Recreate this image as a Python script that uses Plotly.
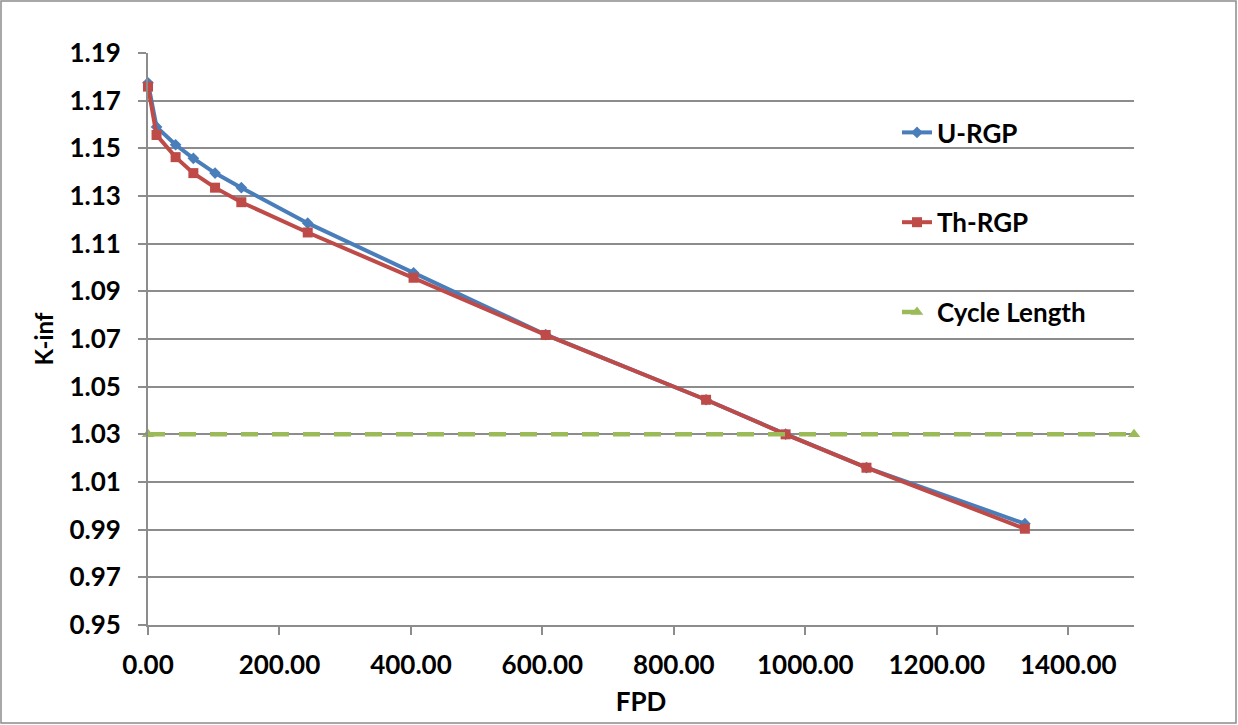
import plotly.graph_objects as go

# Burnup in full-power days and infinite multiplication factor
fpd = [0, 13, 42, 69, 102, 142, 243, 404, 605, 849, 970, 1093, 1334]
u_rgp = [1.1775, 1.1590, 1.1515, 1.1458, 1.1396, 1.1335, 1.1186, 1.0978,
         1.0718, 1.0445, 1.0301, 1.0160, 0.9925]
th_rgp = [1.1759, 1.1556, 1.1463, 1.1396, 1.1335, 1.1274, 1.1147, 1.0957,
          1.0717, 1.0445, 1.0300, 1.0160, 0.9904]
cycle_x = [0, 1500]
cycle_k = [1.03, 1.03]

BLUE = "#4A7EBB"
RED = "#BE4B48"
GREEN = "#9BBB59"
GRID = "#8C8C8C"
FAMILY = "Lato, 'Open Sans', sans-serif"


def bold(size):
    return dict(family=FAMILY, size=size, color="#000000", weight="bold")


fig = go.Figure()
fig.add_trace(go.Scatter(
    x=fpd, y=u_rgp, name="U-RGP", mode="lines+markers",
    line=dict(color=BLUE, width=4),
    marker=dict(symbol="diamond", size=9, color=BLUE),
    legendgroup="a", cliponaxis=False,
))
fig.add_trace(go.Scatter(
    x=fpd, y=th_rgp, name="Th-RGP", mode="lines+markers",
    line=dict(color=RED, width=4),
    marker=dict(symbol="square", size=10, color=RED),
    legendgroup="b", cliponaxis=False,
))
fig.add_trace(go.Scatter(
    x=cycle_x, y=cycle_k, name="Cycle Length", mode="lines+markers",
    line=dict(color=GREEN, width=4.5, dash="17px,14px"),
    marker=dict(symbol="triangle-up", size=11, color=GREEN),
    legendgroup="c", cliponaxis=False,
))

L, R, T, B = 148, 104, 53, 100
W, H = 1238, 725
pw, ph = W - L - R, H - T - B

fig.update_layout(
    width=W, height=H,
    margin=dict(l=L, r=R, t=T, b=B),
    paper_bgcolor="white", plot_bgcolor="white",
    font=bold(26),
    showlegend=True,
    legend=dict(
        x=(897 - L) / pw, y=(H - B - 109) / ph, xanchor="left", yanchor="top",
        traceorder="grouped", tracegroupgap=53,
        font=bold(26),
        bgcolor="rgba(0,0,0,0)", itemwidth=30,
    ),
    xaxis=dict(
        range=[0, 1500], tickmode="array",
        tickvals=[0, 200, 400, 600, 800, 1000, 1200, 1400],
        tickformat=".2f", showgrid=False, zeroline=False,
        showline=True, linecolor=GRID, linewidth=2,
        ticks="outside", ticklen=8, tickcolor=GRID, tickwidth=2,
        ticklabelstandoff=8,
        title=dict(text="FPD", standoff=14, font=bold(26)),
        tickfont=bold(26),
    ),
    yaxis=dict(
        range=[0.95, 1.19], dtick=0.02, tick0=0.95,
        tickformat=".2f", showgrid=True, gridcolor=GRID, gridwidth=2,
        zeroline=False, showline=True, linecolor=GRID, linewidth=2,
        ticks="outside", ticklen=8, tickcolor=GRID, tickwidth=2,
        ticklabelstandoff=12,
        title=dict(text="K-inf", standoff=9, font=bold(24)),
        tickfont=bold(26),
    ),
    shapes=[dict(
        type="rect", xref="paper", yref="paper",
        x0=(1 - L) / pw, x1=(W - 2 - L) / pw,
        y0=(H - B - (H - 2)) / ph, y1=(H - B - 1) / ph,
        line=dict(color="#8C8C8C", width=1.5), layer="below",
    )],
)

fig.write_html("out.html")
